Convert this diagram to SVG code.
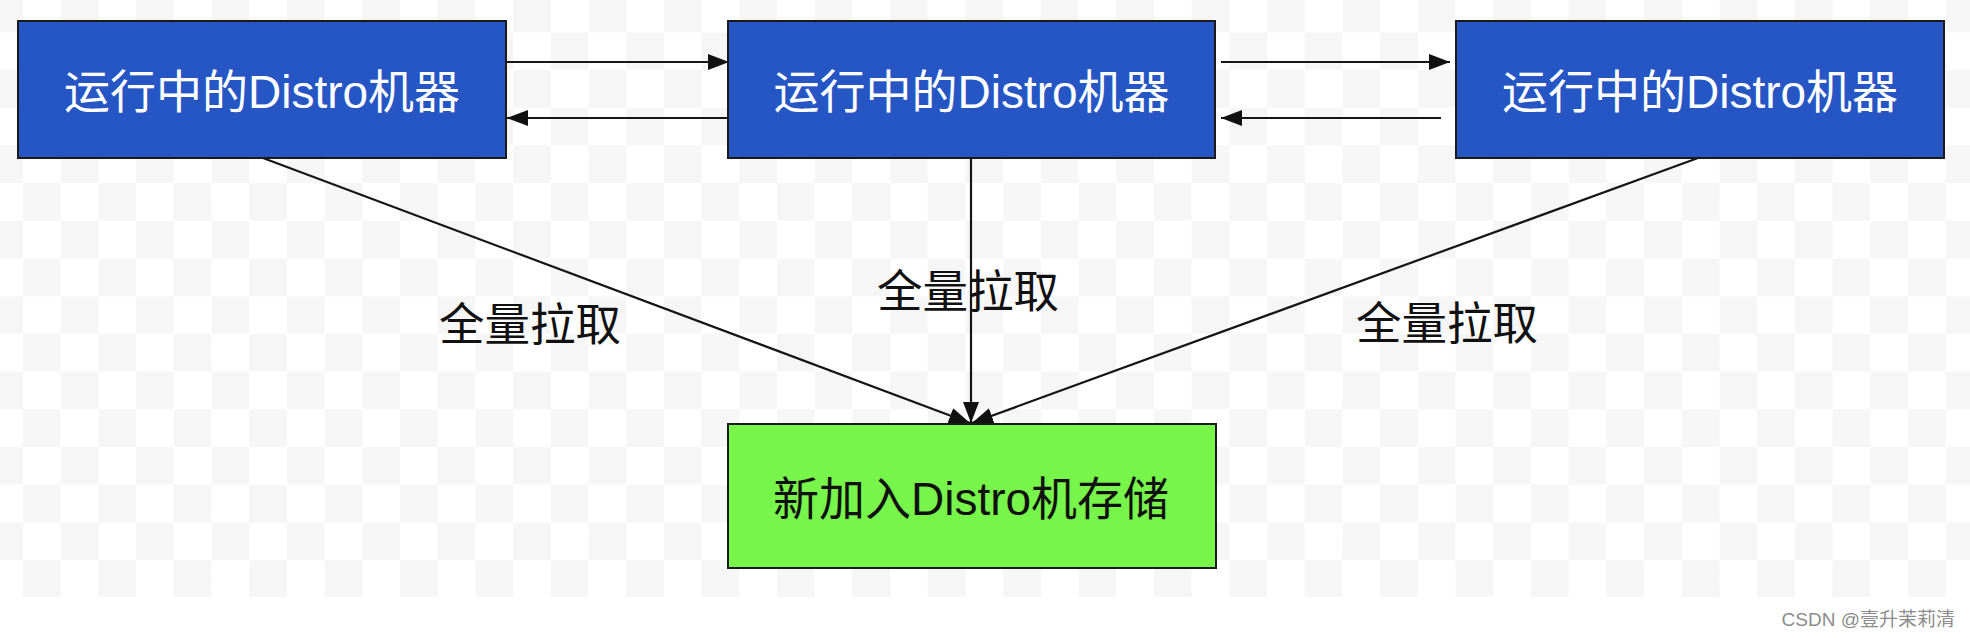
<svg xmlns="http://www.w3.org/2000/svg" width="1970" height="638" viewBox="0 0 1970 638">
<style>
.node{stroke:#1a1a1a;stroke-width:2}
.blue{fill:#2556c4}
.green{fill:#77f54b}
.t{font-family:"Liberation Sans","Noto Sans CJK SC",sans-serif;text-anchor:middle}
.wt{fill:#ffffff;font-size:46px}
.bt{fill:#111111;font-size:46px}
.lbl{fill:#111111;font-size:45.5px;font-family:"Noto Sans CJK SC",sans-serif;text-anchor:middle}
.edge{stroke:#151515;stroke-width:2.2;fill:none;marker-end:url(#ah)}
</style>
<defs>
<pattern id="chk" patternUnits="userSpaceOnUse" x="-14.7" y="32.3" width="75.4" height="75.4">
<rect x="0" y="0" width="75.4" height="75.4" fill="#ffffff"/>
<rect x="37.7" y="0" width="37.7" height="37.7" fill="#f6f6f6"/>
<rect x="0" y="37.7" width="37.7" height="37.7" fill="#f6f6f6"/>
</pattern>
<marker id="ah" markerUnits="userSpaceOnUse" markerWidth="21" markerHeight="16" refX="21" refY="8" orient="auto">
<path d="M0,0 L21,8 L0,16 Z" fill="#111111"/>
</marker>
</defs>
<rect x="0" y="0" width="1970" height="638" fill="#ffffff"/>
<rect x="0" y="0" width="1970" height="597" fill="url(#chk)"/>
<g id="connectors">
<line class="edge" x1="506" y1="62" x2="729" y2="62"/>
<line class="edge" x1="727" y1="118" x2="507" y2="118"/>
<line class="edge" x1="1221" y1="62" x2="1450" y2="62"/>
<line class="edge" x1="1441" y1="118" x2="1221" y2="118"/>
<line class="edge" x1="971" y1="158" x2="971" y2="423"/>
<line class="edge" x1="263" y1="158" x2="970" y2="423"/>
<line class="edge" x1="1698" y1="158" x2="972" y2="423"/>
<text class="lbl" x="530" y="341">全量拉取</text>
<text class="lbl" x="968" y="308">全量拉取</text>
<text class="lbl" x="1447" y="340">全量拉取</text>
</g>
<g id="node1">
<rect class="node blue" x="18" y="21" width="488" height="137"/>
<text class="t wt" x="262" y="108">运行中的Distro机器</text>
</g>
<g id="node2">
<rect class="node blue" x="728" y="21" width="487" height="137"/>
<text class="t wt" x="971.5" y="108">运行中的Distro机器</text>
</g>
<g id="node3">
<rect class="node blue" x="1456" y="21" width="488" height="137"/>
<text class="t wt" x="1700" y="108">运行中的Distro机器</text>
</g>
<g id="node4">
<rect class="node green" x="728" y="424" width="488" height="144"/>
<text class="t bt" x="971" y="515">新加入Distro机存储</text>
</g>
<text x="1955" y="626" font-family="Liberation Sans,'Noto Sans CJK SC',sans-serif" font-size="19" fill="#8c8c8c" text-anchor="end">CSDN @壹升茉莉清</text>
</svg>
